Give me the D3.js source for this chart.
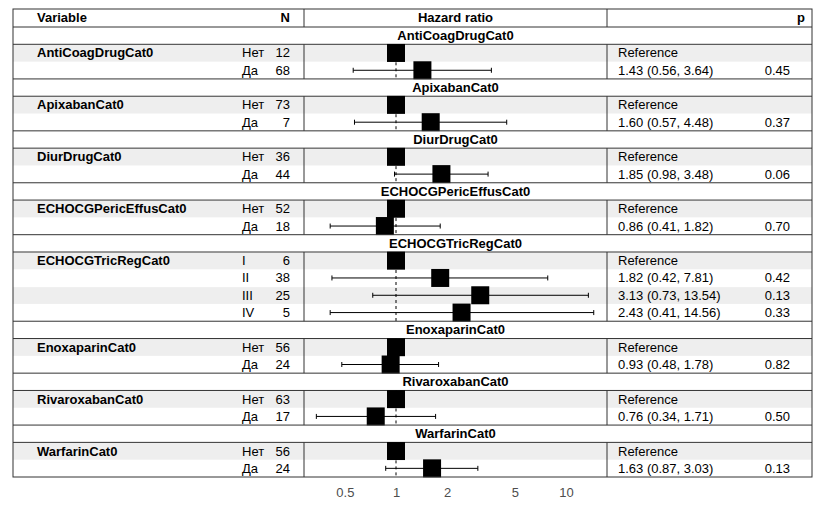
<!DOCTYPE html>
<html><head><meta charset="utf-8">
<script src="https://cdn.jsdelivr.net/npm/d3@7"></script>
<style>body{margin:0;background:#fff}text{font-family:"Liberation Sans",Arial,sans-serif;font-size:13px}</style>
</head><body><div id="chart"></div>
<script>
const variables = ["AntiCoagDrugCat0","ApixabanCat0","DiurDrugCat0","ECHOCGPericEffusCat0","ECHOCGTricRegCat0","EnoxaparinCat0","RivaroxabanCat0","WarfarinCat0"];
const levels = [["Нет","Да"],["Нет","Да"],["Нет","Да"],["Нет","Да"],["I","II","III","IV"],["Нет","Да"],["Нет","Да"],["Нет","Да"]];
const counts = [[12,68],[73,7],[36,44],[52,18],[6,38,25,5],[56,24],[63,17],[56,24]];
const hr = [[1,1.43],[1,1.60],[1,1.85],[1,0.86],[1,1.82,3.13,2.43],[1,0.93],[1,0.76],[1,1.63]];
const lo = [[null,0.56],[null,0.57],[null,0.98],[null,0.41],[null,0.42,0.73,0.41],[null,0.48],[null,0.34],[null,0.87]];
const hi = [[null,3.64],[null,4.48],[null,3.48],[null,1.82],[null,7.81,13.54,14.56],[null,1.78],[null,1.71],[null,3.03]];
const pvals = [[null,"0.45"],[null,"0.37"],[null,"0.06"],[null,"0.70"],[null,"0.42","0.13","0.33"],[null,"0.82"],[null,"0.50"],[null,"0.13"]];
const ticks = [0.5,1,2,5,10];

const width = 826, height = 510;
const L = 13, R = 812, top0 = 9, headH = 18, bottom = 477;
const c1 = 304, c2 = 607;
const nUnits = variables.length + d3.sum(levels, l => l.length);
const rh = (bottom - top0 - headH) / nUnits;
const fmt = d3.format(".2f");

const svg = d3.select("#chart").append("svg").attr("width", width).attr("height", height);
const x = d3.scaleLog().domain([1, 10]).range([396, 566]);

// header
svg.append("text").attr("x", 37).attr("y", top0 + 13).attr("font-weight", "bold").text("Variable");
svg.append("text").attr("x", 290).attr("y", top0 + 13).attr("font-weight", "bold").attr("text-anchor", "end").text("N");
svg.append("text").attr("x", (c1 + c2) / 2).attr("y", top0 + 13).attr("font-weight", "bold").attr("text-anchor", "middle").text("Hazard ratio");
svg.append("text").attr("x", 805).attr("y", top0 + 13).attr("font-weight", "bold").attr("text-anchor", "end").text("p");
[c1, c2].forEach(cx => svg.append("line").attr("x1", cx).attr("x2", cx).attr("y1", top0).attr("y2", top0 + headH).attr("stroke", "#333"));

let y = top0 + headH;
variables.forEach((v, gi) => {
  const g = svg.append("g");
  // title row
  g.append("line").attr("x1", L).attr("x2", R).attr("y1", y).attr("y2", y).attr("stroke", "#333");
  g.append("text").attr("x", (c1 + c2) / 2).attr("y", y + rh / 2 + 4.5).attr("font-weight", "bold").attr("text-anchor", "middle").text(v);
  y += rh;
  g.append("line").attr("x1", L).attr("x2", R).attr("y1", y).attr("y2", y).attr("stroke", "#333");
  const y0 = y, n = levels[gi].length;
  levels[gi].forEach((lv, i) => {
    const yy = y0 + i * rh;
    if (i % 2 === 0) g.insert("rect", ":first-child").attr("x", L).attr("y", yy + 0.5).attr("width", R - L).attr("height", rh - 0.5).attr("fill", "#eeeeee");
  });
  g.append("line").attr("x1", x(1)).attr("x2", x(1)).attr("y1", y0).attr("y2", y0 + n * rh).attr("stroke", "#000").attr("stroke-dasharray", "3,3");
  g.append("text").attr("x", 37).attr("y", y0 + rh / 2 + 4.5).attr("font-weight", "bold").text(v);
  levels[gi].forEach((lv, i) => {
    const cy = y0 + i * rh + rh / 2;
    g.append("text").attr("x", 242).attr("y", cy + 4.5).text(lv);
    g.append("text").attr("x", 290).attr("y", cy + 4.5).attr("text-anchor", "end").text(counts[gi][i]);
    if (lo[gi][i] != null) {
      g.append("line").attr("x1", x(lo[gi][i])).attr("x2", x(hi[gi][i])).attr("y1", cy).attr("y2", cy).attr("stroke", "#000");
      [lo[gi][i], hi[gi][i]].forEach(b => g.append("line").attr("x1", x(b)).attr("x2", x(b)).attr("y1", cy - 2.5).attr("y2", cy + 2.5).attr("stroke", "#000"));
      g.append("text").attr("x", 618).attr("y", cy + 4.5).text(`${fmt(hr[gi][i])} (${fmt(lo[gi][i])}, ${fmt(hi[gi][i])})`);
      g.append("text").attr("x", 790).attr("y", cy + 4.5).attr("text-anchor", "end").text(pvals[gi][i]);
    } else {
      g.append("text").attr("x", 618).attr("y", cy + 4.5).text("Reference");
    }
    g.append("rect").attr("x", x(hr[gi][i]) - 9).attr("y", cy - 9).attr("width", 18).attr("height", 18).attr("fill", "#000");
  });
  [c1, c2].forEach(cx => g.append("line").attr("x1", cx).attr("x2", cx).attr("y1", y0).attr("y2", y0 + n * rh).attr("stroke", "#333"));
  y = y0 + n * rh;
});

svg.append("rect").attr("x", L).attr("y", top0).attr("width", R - L).attr("height", bottom - top0).attr("fill", "none").attr("stroke", "#333");

const ax = svg.append("g").attr("transform", `translate(0,${bottom})`)
  .call(d3.axisBottom(x).tickValues(ticks).tickFormat(d3.format("")).tickSize(0).tickPadding(11));
ax.select(".domain").remove();
ax.selectAll("text").attr("fill", "#4d4d4d").style("font-size", "13px");
</script></body></html>
